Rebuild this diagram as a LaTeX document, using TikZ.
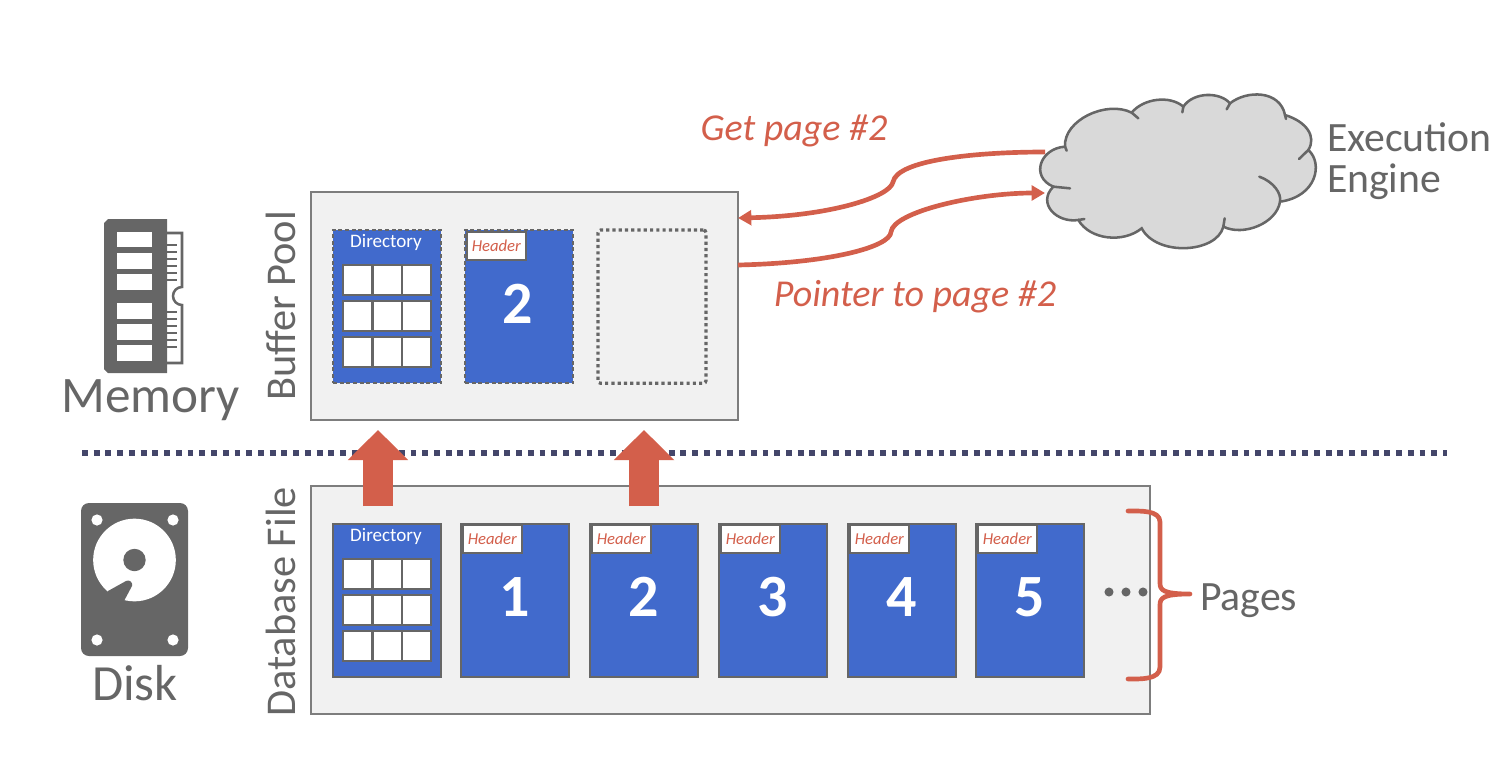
\documentclass[tikz,border=0pt]{standalone}
\usepackage{fontspec}
\setmainfont{Carlito}
\usetikzlibrary{arrows.meta}
\definecolor{ink}{HTML}{666666}
\definecolor{rust}{HTML}{D35F4B}
\definecolor{pageblue}{HTML}{416ACC}
\definecolor{panel}{HTML}{F1F1F1}
\definecolor{navy}{HTML}{44466A}
\newcommand{\fs}[1]{\fontsize{#1}{#1}\selectfont}
\tikzset{
 px/.style={inner sep=0pt,outer sep=0pt},
 panelbox/.style={px,draw=ink!85,line width=1.5pt,fill=panel,anchor=north west},
 pagebox/.style={px,draw=ink,line width=1.7pt,fill=pageblue,anchor=north west,minimum width=81pt,minimum height=115pt},
 dashbox/.style={pagebox,densely dashed},
 voidbox/.style={pagebox,fill=none,line width=2.4pt,dash pattern=on 2.4pt off 2.3pt,rounded corners=2pt},
 headbox/.style={px,draw=ink,line width=1.5pt,fill=white,anchor=north west,minimum width=44pt,minimum height=21pt,text=rust,font=\fs{12.5}\itshape},
 cell/.style={px,draw=ink,line width=1.5pt,fill=white,anchor=north west,minimum width=21.8pt,minimum height=22.5pt},
 label/.style={px,text=ink,anchor=base},
 sidelabel/.style={px,text=ink,anchor=base,rotate=90,font=\fs{31.8}},
 red/.style={px,text=rust,anchor=base,font=\fs{28.5}\itshape},
 dirlabel/.style={px,text=white,anchor=base,font=\fs{14.3}},
 digit/.style={px,text=white,anchor=base,font=\fs{45}\bfseries},
 flow/.style={draw=rust,line width=3.5pt},
 bigarrow/.style={draw=rust,line width=22.5pt,-{Triangle[length=22.5pt,width=44pt]}},
 iconink/.style={fill=ink,draw=none},
 cloudline/.style={draw=ink,line width=1.9pt,line cap=round},
}
\begin{document}
\begin{tikzpicture}[x=0.75pt,y=-0.75pt]
\useasboundingbox (0,0) rectangle (1506,770);
% panels
\node[panelbox,minimum width=320pt,minimum height=171pt] (pool) at (311,192) {};
\node[panelbox,minimum width=629pt,minimum height=171pt] (file) at (311,486) {};
\node[sidelabel] (poollabel) at (295,306) {Buffer Pool};
\node[sidelabel] (filelabel) at (295,602) {Database File};
% buffer pool pages
\node[dashbox] (bdir) at (333,230) {};
\node[dashbox] (bp2) at (465,230) {};
\node[voidbox] (bvoid) at (598,230) {};
\node[dirlabel] (bdirt) at (386,247) {Directory};
\foreach \r/\y in {1/265,2/301,3/337}
  \foreach \c/\x in {1/343,2/372.5,3/402}
    \node[cell] (b\r\c) at (\x,\y) {};
\node[headbox] (bh2) at (467,232) {Header};
\node[digit] (bn2) at (518,323) {2};
% file pages
\node[pagebox] (fdir) at (333,524) {};
\node[dirlabel] (fdirt) at (386,541) {Directory};
\foreach \r/\y in {1/559,2/595,3/631}
  \foreach \c/\x in {1/343,2/372.5,3/402}
    \node[cell] (f\r\c) at (\x,\y) {};
\foreach \n/\x in {1/461,2/590,3/719,4/848,5/976}{
  \node[pagebox] (fp\n) at (\x,524) {};
  \node[headbox] (fh\n) at (\x+2,525) {Header};
  \node[digit] (fn\n) at (\x+53.5,616) {\n};
}
% dots
\foreach \i/\x in {1/1109,2/1126,3/1143}
  \fill[ink] (\x,592) circle (3.4pt);
% divider
\coordinate (dl) at (82,453); \coordinate (dr) at (1447,453);
\draw[navy,line width=4.4pt,dash pattern=on 4.4pt off 4.4pt] (dl) -- (dr);
% big arrows
\coordinate (a1s) at (378,506); \coordinate (a1e) at (378,430);
\coordinate (a2s) at (644,506); \coordinate (a2e) at (644,430);
\draw[bigarrow] (a1s) -- (a1e);
\draw[bigarrow] (a2s) -- (a2e);
% cloud
\begin{scope}[shift={(1020,80)},x=0.25pt,y=-0.25pt]
\draw[cloudline,fill=black!15] (135,200) .. controls (130,120) and (260,60) .. (335,98)
 .. controls (370,55) and (450,45) .. (490,80)
 .. controls (520,35) and (600,35) .. (630,70)
 .. controls (680,30) and (780,30) .. (795,105)
 .. controls (860,125) and (890,170) .. (865,210)
 .. controls (910,250) and (890,350) .. (780,365)
 .. controls (770,430) and (670,470) .. (610,440)
 .. controls (590,520) and (410,530) .. (365,445)
 .. controls (310,490) and (210,480) .. (175,420)
 .. controls (110,430) and (50,370) .. (100,320)
 .. controls (30,290) and (60,205) .. (135,200) -- cycle;
\draw[cloudline] (135,200) -- (140,212);
\draw[cloudline] (335,98) -- (355,115);
\draw[cloudline] (490,80) -- (487,97);
\draw[cloudline] (630,70) -- (620,88);
\draw[cloudline] (795,105) -- (798,117);
\draw[cloudline] (865,210) -- (837,237);
\draw[cloudline] (718,290) .. controls (760,305) and (785,340) .. (780,365);
\draw[cloudline] (610,440) -- (614,415);
\draw[cloudline] (175,420) -- (193,417);
\draw[cloudline] (100,320) -- (150,325);
\end{scope}
\coordinate (engOut) at (1045,152);
\coordinate (engIn) at (1045,193);
\coordinate (poolIn) at (738,218);
\coordinate (poolOut) at (738,265);
\draw[flow,-{Triangle[length=10pt,width=11pt]}] (engOut) .. controls (975,152) and (897,160) .. (893,182)
  .. controls (890,197) and (830,216) .. (poolIn);
\draw[flow,-{Triangle[length=10pt,width=11pt]}] (poolOut) .. controls (830,263) and (890,247) .. (891,232)
  .. controls (893,212) and (975,193) .. (engIn);
\node[red] (gettext) at (794,141) {Get page \#2};
\node[red] (ptrtext) at (915,306) {Pointer to page \#2};
\node[label,font=\fs{31.3},anchor=base west] (exec) at (1327,152) {Execution};
\node[label,font=\fs{31.3},anchor=base west] (engine) at (1327,193) {Engine};
% bracket
\coordinate (brt) at (1128,511); \coordinate (brb) at (1128,679); \coordinate (brm) at (1190,594);
\draw[flow,line cap=round,line join=round] (brt) .. controls (1140,511) and (1160,510) .. (1160,522) -- (1160,583)
  .. controls (1160,590) and (1163,594) .. (brm) .. controls (1163,594) and (1160,598) .. (1160,605)
  -- (1160,667) .. controls (1160,680) and (1140,679) .. (brb);
\node[label,font=\fs{31.3},anchor=base west] (pages) at (1200,610) {Pages};
% memory icon
\node[label,font=\fs{38.4}] (memory) at (150.5,412) {Memory};
\fill[iconink] (108,219) -- (167,219) -- (167,373) -- (108,373) -- (104,369) -- (104,223) -- cycle;
\draw[ink,line width=1.9pt] (167,233) -- (182,233) -- (182,287) arc[start angle=-90,end angle=-270,radius=9] -- (182,363) -- (167,363);
\foreach \y in {245,252,259,266,273,280,312,319,326,333,340,347}
  \draw[ink,line width=1.9pt] (167,\y) -- (177,\y);
\foreach \a/\b in {232/247,253/269,274/290,303/319,324/340,345/361}
  \fill[white] (117,\a) rectangle (152,\b);
\node[label,font=\fs{38}] (disk) at (135,700) {Disk};
% disk icon
\fill[iconink,rounded corners=6pt] (81,503) rectangle (188,656);
\foreach \x/\y in {97/520,173/520,97/640,173/640}
  \fill[white] (\x,\y) circle (4.2pt);
\fill[white] (134.5,560) circle (31pt);
\fill[ink] (134.5,560) circle (8.4pt);
\fill[ink,line join=round] (108,591) -- (126,581) .. controls (130,579) and (133,583) .. (132,586) -- (124,601) -- (100,610) -- cycle;
\end{tikzpicture}
\end{document}
